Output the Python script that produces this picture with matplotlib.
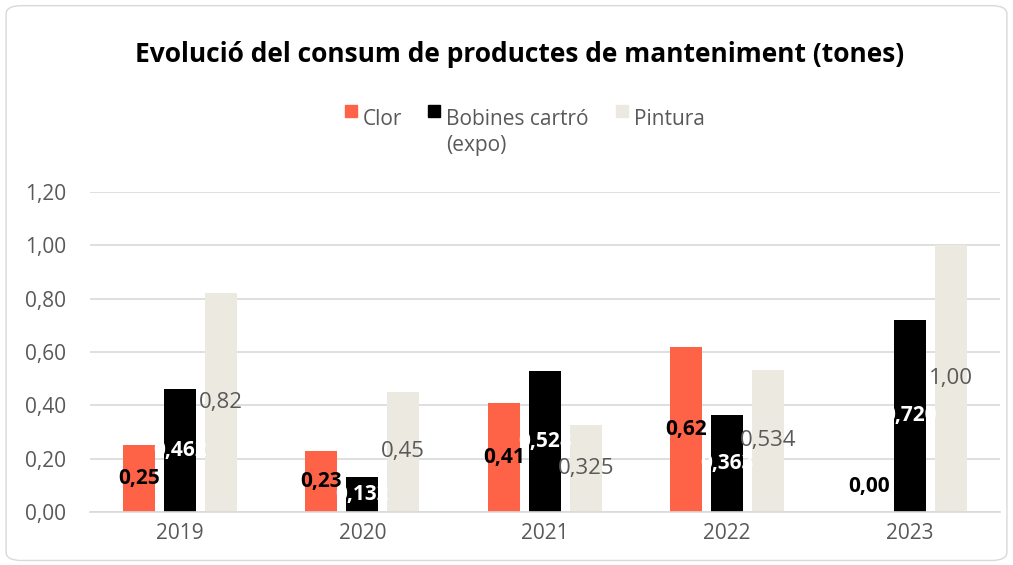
import numpy as np
import matplotlib.pyplot as plt
from matplotlib.patches import FancyBboxPatch, Rectangle

plt.rcParams['font.family'] = ['Open Sans', 'DejaVu Sans']

anys = ['2019', '2020', '2021', '2022', '2023']
clor = [0.25, 0.23, 0.41, 0.62, 0.00]
bobines = [0.462, 0.132, 0.528, 0.363, 0.720]
pintura = [0.82, 0.45, 0.325, 0.534, 1.00]
clor_txt = ['0,25', '0,23', '0,41', '0,62', '0,00']
bobines_txt = ['0,462', '0,132', '0,528', '0,363', '0,720']
pintura_txt = ['0,82', '0,45', '0,325', '0,534', '1,00']
series = ['Clor', 'Bobines cartró\n(expo)', 'Pintura']

c_clor = '#FF6347'
c_bob = '#000000'
c_pint = '#ECEAE0'
gris = '#595959'

fig = plt.figure(figsize=(10.13, 5.65), dpi=100)
fig.patches.append(FancyBboxPatch((0.006, 0.008), 0.988, 0.982, boxstyle='round,pad=0,rounding_size=0.015',
                                  transform=fig.transFigure, fill=False, edgecolor='#D9D9D9', lw=1))
ax = fig.add_axes([0.0888, 0.094, 0.898, 0.566])

x = np.arange(len(anys))
w = 0.175
d = 0.2245
b1 = ax.bar(x - d, clor, w, color=c_clor, zorder=2)
b2 = ax.bar(x, bobines, w, color=c_bob, zorder=2)
b3 = ax.bar(x + d, pintura, w, color=c_pint, zorder=2)

for i in range(len(anys)):
    yv = clor[i] / 2 if clor[i] > 0 else 0.095
    ax.text(x[i] - d, yv, clor_txt[i], ha='center', va='center', fontsize=15,
            fontweight='bold', color='black', zorder=3)
    t = ax.text(x[i], bobines[i] / 2, bobines_txt[i], ha='center', va='center', fontsize=15,
                fontweight='bold', color='white', zorder=3)
    t.set_clip_path(b2[i])
    ax.text(x[i] + d, pintura[i] / 2, pintura_txt[i], ha='center', va='center', fontsize=16,
            color=gris, zorder=3)

ax.set_ylim(0, 1.2)
ax.set_xlim(-0.493, 4.493)
ax.set_yticks(np.arange(0, 1.21, 0.2))
ax.set_yticklabels([f'{v:.2f}'.replace('.', ',') for v in np.arange(0, 1.21, 0.2)])
ax.set_xticks(x)
ax.set_xticklabels(anys)
ax.tick_params(axis='both', length=0, labelsize=15, labelcolor=gris)
ax.tick_params(axis='x', pad=8)
ax.tick_params(axis='y', pad=17)
ax.grid(axis='y', color='#D9D9D9', lw=1.2, zorder=0)
for s in ['top', 'right', 'left']:
    ax.spines[s].set_visible(False)
ax.spines['bottom'].set_color('#D9D9D9')
ax.spines['bottom'].set_linewidth(1.2)

fig.text(0.513, 0.903, 'Evolució del consum de productes de manteniment (tones)', ha='center', va='center',
         fontsize=19, fontweight='bold', color='black')

# llegenda feta a mà
leg_x = [0.3406, 0.4225, 0.6081]
colors = [c_clor, c_bob, c_pint]
for lx, c, s in zip(leg_x, colors, series):
    fig.patches.append(Rectangle((lx, 0.7930), 0.0118, 0.0212, transform=fig.transFigure,
                                 color=c, zorder=3))
    fig.text(lx + 0.0177, 0.8035 + 0.004, s, ha='left', va='top', fontsize=15, color=gris,
             linespacing=1.35, transform=fig.transFigure)

fig.savefig('out.png', dpi=100)
